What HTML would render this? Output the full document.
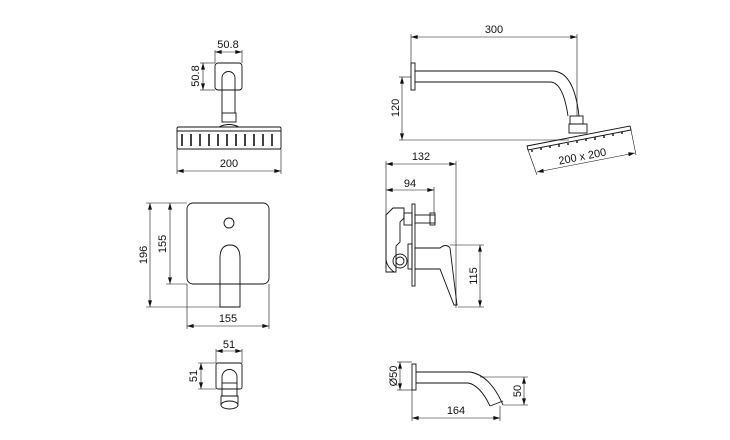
<!DOCTYPE html>
<html><head><style>
html,body{margin:0;padding:0;background:#fff;}
svg{display:block;}
text{font-family:"Liberation Sans",sans-serif;font-size:11px;fill:#111;}
</style></head><body>
<svg width="730" height="440" viewBox="0 0 730 440" xmlns="http://www.w3.org/2000/svg">
<defs>
<marker id="a" viewBox="0 0 10 6" refX="10" refY="3" markerWidth="8" markerHeight="4" orient="auto-start-reverse" markerUnits="userSpaceOnUse"><path d="M0,0L10,3L0,6z" fill="#111"/></marker>
</defs>
<g fill="none" stroke="#111" stroke-width="0.9">
<!-- shower front -->
<rect x="215" y="63" width="27" height="27" rx="3"/>
<path d="M222,113 V78 a6.5,6.5 0 0 1 13,0 V113"/>
<rect x="222" y="113" width="14" height="9"/>
<path d="M219,127 q10,-5 20,0"/>
<rect x="177" y="127" width="104" height="22" rx="1.5"/>
<line x1="177" y1="131" x2="281" y2="131"/>
<g stroke-width="1.6">
<line x1="182" y1="134" x2="182" y2="146"/><line x1="191" y1="134" x2="191" y2="146"/><line x1="200" y1="134" x2="200" y2="146"/><line x1="209" y1="134" x2="209" y2="146"/><line x1="218" y1="134" x2="218" y2="146"/><line x1="227" y1="134" x2="227" y2="146"/><line x1="236" y1="134" x2="236" y2="146"/><line x1="245" y1="134" x2="245" y2="146"/><line x1="254" y1="134" x2="254" y2="146"/><line x1="263" y1="134" x2="263" y2="146"/><line x1="272" y1="134" x2="272" y2="146"/>
</g>
<g stroke-width="0.6">
<line x1="215" y1="50" x2="215" y2="63"/><line x1="242" y1="50" x2="242" y2="63"/>
<line x1="215" y1="52" x2="242" y2="52" marker-start="url(#a)" marker-end="url(#a)"/>
<line x1="200" y1="63" x2="215" y2="63"/><line x1="200" y1="90" x2="215" y2="90"/>
<line x1="203" y1="63" x2="203" y2="90" marker-start="url(#a)" marker-end="url(#a)"/>
<line x1="177" y1="149" x2="177" y2="174"/><line x1="281" y1="149" x2="281" y2="174"/>
<line x1="177" y1="171" x2="281" y2="171" marker-start="url(#a)" marker-end="url(#a)"/>
</g>
<!-- valve front -->
<rect x="187" y="203" width="82" height="81" rx="6"/>
<circle cx="229" cy="223" r="5"/>
<path d="M220,307 V258 q0,-13 10,-13 q10,0 10,13 V307 Z"/>
<g stroke-width="0.6">
<line x1="146" y1="203" x2="187" y2="203"/>
<line x1="166" y1="284" x2="187" y2="284"/>
<line x1="146" y1="307" x2="220" y2="307"/>
<line x1="170" y1="203" x2="170" y2="284" marker-start="url(#a)" marker-end="url(#a)"/>
<line x1="150" y1="203" x2="150" y2="307" marker-start="url(#a)" marker-end="url(#a)"/>
<line x1="187" y1="284" x2="187" y2="329"/><line x1="269" y1="284" x2="269" y2="329"/>
<line x1="187" y1="326" x2="269" y2="326" marker-start="url(#a)" marker-end="url(#a)"/>
</g>
<!-- spout front -->
<rect x="216" y="363" width="26" height="26" rx="2"/>
<path d="M222,396 V377 a7.5,7.5 0 0 1 15,0 V396"/>
<line x1="222" y1="383" x2="237" y2="383"/>
<path d="M221,396 H238 V405"/><line x1="221" y1="396" x2="221" y2="405"/>
<ellipse cx="229.5" cy="405" rx="8.5" ry="4"/>
<g stroke-width="0.6">
<line x1="216" y1="349" x2="216" y2="363"/><line x1="242" y1="349" x2="242" y2="363"/>
<line x1="216" y1="351" x2="242" y2="351" marker-start="url(#a)" marker-end="url(#a)"/>
<line x1="198" y1="363" x2="216" y2="363"/><line x1="198" y1="389" x2="216" y2="389"/>
<line x1="201" y1="363" x2="201" y2="389" marker-start="url(#a)" marker-end="url(#a)"/>
</g>
<!-- shower side -->
<rect x="411" y="63" width="4" height="27"/>
<path d="M415,71 H552 q22,0 27,45"/>
<path d="M415,82 H550 q13,0 18,34"/>
<rect x="570" y="116" width="13" height="8"/>
<rect x="569" y="124" width="18" height="9"/>
<path d="M527,146 L630,126 L631,130 L528,150 Z"/>
<g stroke-width="1.4">
<line x1="532" y1="150" x2="532" y2="152"/><line x1="541" y1="148" x2="541" y2="150"/><line x1="550" y1="146" x2="550" y2="148"/><line x1="559" y1="144" x2="559" y2="147"/><line x1="568" y1="143" x2="568" y2="145"/><line x1="577" y1="141" x2="577" y2="143"/><line x1="586" y1="139" x2="586" y2="141"/><line x1="595" y1="137" x2="595" y2="140"/><line x1="604" y1="135" x2="604" y2="138"/><line x1="613" y1="134" x2="613" y2="136"/><line x1="622" y1="132" x2="622" y2="134"/>
</g>
<g stroke-width="0.6">
<line x1="411" y1="34" x2="411" y2="63"/><line x1="577" y1="34" x2="577" y2="116"/>
<line x1="411" y1="37" x2="577" y2="37" marker-start="url(#a)" marker-end="url(#a)"/>
<line x1="399" y1="77" x2="411" y2="77"/><line x1="399" y1="140" x2="569" y2="140"/>
<line x1="402" y1="77" x2="402" y2="140" marker-start="url(#a)" marker-end="url(#a)"/>
<line x1="528" y1="150" x2="537" y2="175"/><line x1="631" y1="130" x2="636" y2="155"/>
<line x1="537" y1="172" x2="635" y2="153" marker-start="url(#a)" marker-end="url(#a)"/>
</g>
<!-- valve side -->
<path d="M386,215 L393,208 H404 V218 L400,222 V242 L396,246 V272 L386,272 Z"/>
<path d="M386,215 V258 q0,8 8,14"/>
<rect x="412" y="204" width="3" height="82"/>
<rect x="404" y="213" width="8" height="12"/>
<rect x="415" y="215" width="20" height="8"/>
<rect x="430" y="213" width="5" height="12"/>
<circle cx="400" cy="261" r="7"/><circle cx="400" cy="261" r="4"/>
<rect x="408" y="244" width="4" height="25"/>
<path d="M415,248 H440 q6,-5 10,0 L457,305 H454 L440,269 H415"/>
<g stroke-width="0.6">
<line x1="386" y1="161" x2="386" y2="215"/><line x1="456" y1="161" x2="456" y2="308"/>
<line x1="386" y1="164" x2="456" y2="164" marker-start="url(#a)" marker-end="url(#a)"/>
<line x1="434" y1="187" x2="434" y2="213"/>
<line x1="386" y1="190" x2="434" y2="190" marker-start="url(#a)" marker-end="url(#a)"/>
<line x1="450" y1="245" x2="484" y2="245"/><line x1="458" y1="307" x2="484" y2="307"/>
<line x1="480" y1="245" x2="480" y2="307" marker-start="url(#a)" marker-end="url(#a)"/>
</g>
<!-- spout side -->
<rect x="412" y="364" width="4" height="26"/>
<path d="M416,372 H470 q20,3 33,33"/>
<path d="M416,383 H468 q12,2 22,23"/>
<line x1="490" y1="406" x2="503" y2="401"/>
<g stroke-width="0.6">
<line x1="397" y1="362" x2="412" y2="362"/><line x1="397" y1="390" x2="412" y2="390"/>
<line x1="400" y1="362" x2="400" y2="390" marker-start="url(#a)" marker-end="url(#a)"/>
<line x1="412" y1="390" x2="412" y2="421"/><line x1="500" y1="406" x2="500" y2="421"/>
<line x1="412" y1="418" x2="500" y2="418" marker-start="url(#a)" marker-end="url(#a)"/>
<line x1="480" y1="377" x2="528" y2="377"/><line x1="503" y1="405" x2="528" y2="405"/>
<line x1="524" y1="377" x2="524" y2="405" marker-start="url(#a)" marker-end="url(#a)"/>
</g>
</g>
<g>
<text x="228" y="48" text-anchor="middle">50.8</text>
<text transform="translate(199,76) rotate(-90)" text-anchor="middle">50.8</text>
<text x="229" y="167" text-anchor="middle">200</text>
<text transform="translate(166,244) rotate(-90)" text-anchor="middle">155</text>
<text transform="translate(147,255) rotate(-90)" text-anchor="middle">196</text>
<text x="228" y="322" text-anchor="middle">155</text>
<text x="229" y="348" text-anchor="middle">51</text>
<text transform="translate(197,376) rotate(-90)" text-anchor="middle">51</text>
<text x="494" y="33" text-anchor="middle">300</text>
<text transform="translate(399,108) rotate(-90)" text-anchor="middle">120</text>
<text transform="translate(583,160) rotate(-11)" text-anchor="middle">200 x 200</text>
<text x="421" y="160" text-anchor="middle">132</text>
<text x="410" y="187" text-anchor="middle">94</text>
<text transform="translate(477,276) rotate(-90)" text-anchor="middle">115</text>
<text transform="translate(397,376) rotate(-90)" text-anchor="middle">Ø50</text>
<text x="456" y="414" text-anchor="middle">164</text>
<text transform="translate(521,391) rotate(-90)" text-anchor="middle">50</text>
</g>
</svg>
</body></html>
